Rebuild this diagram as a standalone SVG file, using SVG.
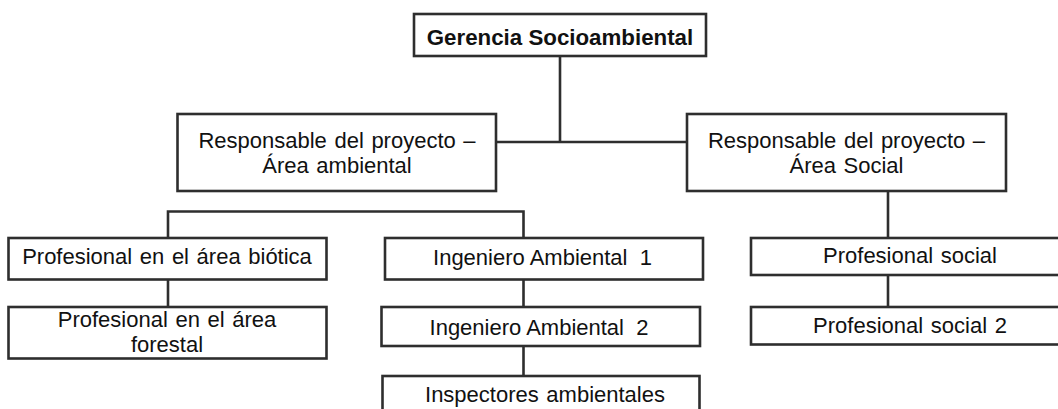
<svg xmlns="http://www.w3.org/2000/svg" width="1058" height="409" viewBox="0 0 1058 409">
<style>
rect{fill:#fff;stroke:#2e2e2e;stroke-width:2.6}
text{font-family:"Liberation Sans",Arial,sans-serif;font-size:22px;word-spacing:1.5px;fill:#111;text-anchor:middle}
.b{font-weight:bold;font-size:22.3px;word-spacing:0}
.pre{white-space:pre;word-spacing:0}
#connectors path{fill:none;stroke:#2e2e2e;stroke-width:2.6}
</style>
<rect x="0" y="0" width="1058" height="409" style="fill:#fff;stroke:none"/>
<g id="connectors">
<path d="M560 56V142M496 142H687"/>
<path d="M168 238V211.5H523.5V238"/>
<path d="M168 279V307"/>
<path d="M523.5 279V307M523.5 346V376"/>
<path d="M888 191V238M888 275V307"/>
</g>
<g id="gerencia"><rect x="414" y="14" width="292" height="42"/><text class="b" x="560" y="45">Gerencia Socioambiental</text></g>
<g id="resp-ambiental"><rect x="177.5" y="114" width="318.5" height="77"/><text x="337" y="148">Responsable del proyecto –</text><text x="337" y="173">Área ambiental</text></g>
<g id="resp-social"><rect x="687" y="114" width="319" height="77"/><text x="846.5" y="148">Responsable del proyecto –</text><text x="846.5" y="173">Área Social</text></g>
<g id="biotica"><rect x="8.5" y="238" width="318" height="41.5"/><text x="167" y="264">Profesional en el área biótica</text></g>
<g id="forestal"><rect x="8.5" y="307" width="318" height="51.5"/><text x="167" y="327">Profesional en el área</text><text x="167" y="352">forestal</text></g>
<g id="ing1"><rect x="385" y="238" width="318" height="41.5"/><text class="pre" x="542.5" y="265" xml:space="preserve">Ingeniero Ambiental  1</text></g>
<g id="ing2"><rect x="381.5" y="307" width="318.5" height="39"/><text class="pre" x="539" y="335" xml:space="preserve">Ingeniero Ambiental  2</text></g>
<g id="inspectores"><rect x="382.5" y="376" width="317" height="40"/><text x="545" y="402">Inspectores ambientales</text></g>
<g id="prof-social"><rect x="751" y="238" width="318" height="37"/><text x="910" y="263">Profesional social</text></g>
<g id="prof-social-2"><rect x="751" y="307" width="318" height="37.5"/><text x="910" y="333">Profesional social 2</text></g>
</svg>
